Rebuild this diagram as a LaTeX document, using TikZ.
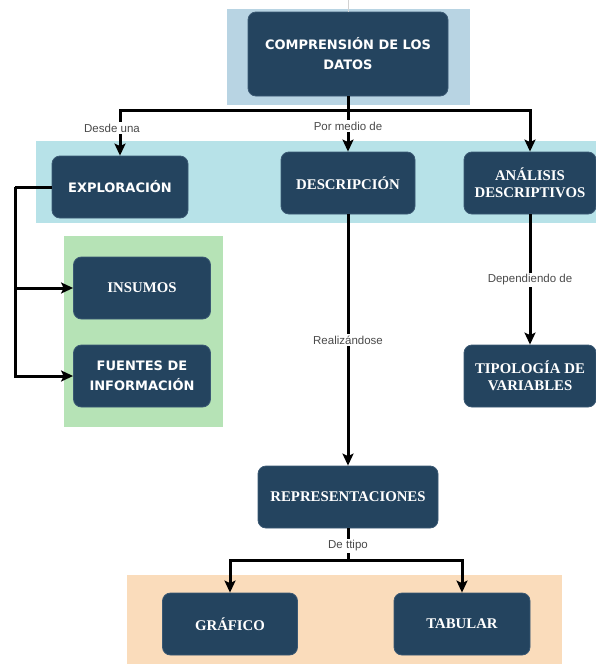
\documentclass[tikz,border=0pt]{standalone}
\usepackage{fontspec}
\setmainfont{Liberation Serif}
\newfontfamily\boxsans{DejaVu Sans}
\newfontfamily\labelfont{Liberation Sans}
\usetikzlibrary{arrows.meta}

\definecolor{navy}{HTML}{24445F}
\definecolor{navyedge}{HTML}{3A5873}
\definecolor{bandtop}{HTML}{B8D4E3}
\definecolor{bandmid}{HTML}{B7E2E8}
\definecolor{bandgreen}{HTML}{B6E3B6}
\definecolor{bandorange}{HTML}{FADCBB}
\definecolor{labelgray}{HTML}{4A4A4A}

\tikzset{
  concept/.style={rectangle, rounded corners=8pt, fill=navy, draw=navyedge,
    line width=0.8pt, text=white, align=center, inner sep=2pt},
  serifbox/.style={concept, font=\bfseries\fontsize{14.8}{17}\selectfont},
  sansbox/.style={concept, font=\boxsans\bfseries\fontsize{13}{20}\selectfont},
  link/.style={line width=3pt, draw=black},
  arrowlink/.style={link, -{Stealth[length=12pt,width=11pt,inset=2.5pt]}},
  edgelabel/.style={fill=white, text=labelgray, inner sep=1.5pt,
    font=\labelfont\fontsize{11.5}{13}\selectfont},
}

\begin{document}
\begin{tikzpicture}[x=1pt, y=-1pt]
  \useasboundingbox (0,0) rectangle (596,664);
  \fill[white] (0,0) rectangle (596,664);

  % coloured group bands
  \fill[bandtop]    (227,9)   rectangle (470,105);
  \fill[bandmid]    (36,141)  rectangle (596,223);
  \fill[bandgreen]  (64,236)  rectangle (223,427);
  \fill[bandorange] (127,575) rectangle (562,664);

  % concept boxes
  \node[sansbox,  minimum width=200pt, minimum height=84pt] (datos) at (348,54)
    {COMPRENSIÓN DE LOS\\DATOS};
  \node[sansbox,  minimum width=136pt, minimum height=62pt] (expl) at (120,187) {EXPLORACIÓN};
  \node[serifbox, minimum width=134pt, minimum height=62pt] (desc) at (348,183) {DESCRIPCIÓN};
  \node[serifbox, minimum width=132pt, minimum height=62pt] (anal) at (530,183)
    {ANÁLISIS\\DESCRIPTIVOS};
  \node[serifbox, minimum width=137pt, minimum height=62pt] (insumos) at (142,288) {INSUMOS};
  \node[sansbox,  minimum width=137pt, minimum height=62pt] (fuentes) at (142,376)
    {FUENTES DE\\INFORMACIÓN};
  \node[serifbox, minimum width=132pt, minimum height=62pt] (tipo) at (530,376)
    {TIPOLOGÍA DE\\VARIABLES};
  \node[serifbox, minimum width=180pt, minimum height=62pt] (repr) at (348,497) {REPRESENTACIONES};
  \node[serifbox, minimum width=135pt, minimum height=62pt] (graf) at (230,624) {GRÁFICO};
  \node[serifbox, minimum width=136pt, minimum height=62pt] (tab) at (462,624) {TABULAR};

  % junction points of the branching connectors
  \coordinate (incoming) at (348,0);
  \coordinate (split)    at (348,110);
  \coordinate (side)     at (15,187);
  \coordinate (fork)     at (348,560);

  % faint incoming line at the top
  \draw[gray!35, line width=0.8pt] (incoming) -- (datos.north);

  % first level
  \draw[link] (datos.south) -- (split);
  \draw[arrowlink] (split) -| (expl.north);
  \draw[arrowlink] (split) -- (desc.north);
  \draw[arrowlink] (split) -| (anal.north);
  \node[edgelabel] (lbldesde) at (112,128) {Desde una};
  \node[edgelabel] (lblpor)   at (348,126) {Por medio de};

  % exploration branch
  \draw[link] (expl.west) -- (side);
  \draw[arrowlink] (side) |- (insumos.west);
  \draw[arrowlink] (side) |- (fuentes.west);

  % description branch
  \draw[arrowlink] (desc.south) -- (repr.north);
  \node[edgelabel] (lblreal) at (348,340) {Realizándose};

  % descriptive analysis branch
  \draw[arrowlink] (anal.south) -- (tipo.north);
  \node[edgelabel] (lbldep) at (530,280) {Dependiendo de};

  % representations branch
  \draw[link] (repr.south) -- (fork);
  \draw[arrowlink] (fork) -| (graf.north);
  \draw[arrowlink] (fork) -| (tab.north);
  \node[edgelabel] (lbltipo) at (348,546) {De ttipo};
\end{tikzpicture}
\end{document}
